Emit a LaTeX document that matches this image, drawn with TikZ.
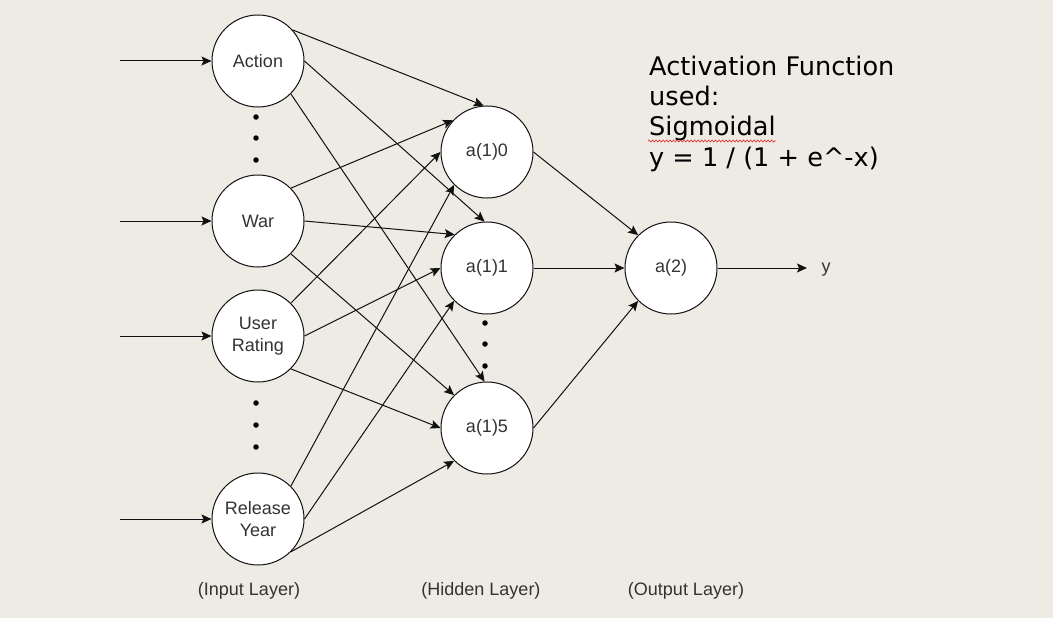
\documentclass[tikz,border=0pt]{standalone}
\usepackage{fontspec}
\setmainfont{Liberation Sans}
\newfontfamily\dejavu{DejaVu Sans}
\usetikzlibrary{arrows.meta,decorations.pathmorphing}
\definecolor{bg}{HTML}{EEEBE4}
\definecolor{txt}{HTML}{333333}
\definecolor{ln}{HTML}{111111}
\definecolor{spell}{HTML}{E02020}
\begin{document}
\begin{tikzpicture}[x=1pt,y=-1pt,
  neuron/.style={circle, draw=ln, line width=1pt, fill=white, minimum size=92pt,
    inner sep=0pt, text=txt, font=\fontsize{18}{21.6}\selectfont, align=center},
  conn/.style={draw=ln, line width=1pt, -{Stealth[length=10pt,width=9pt,inset=2pt]}},
  dotc/.style={circle, fill=black, inner sep=0pt, minimum size=5.5pt},
  layer/.style={text=txt, font=\fontsize{18}{21.6}\selectfont},
  note/.style={text=black, font=\dejavu\fontsize{25.6}{30.2}\selectfont, align=left, inner sep=0pt}]
\fill[bg] (0,0) rectangle (1053,618);
\useasboundingbox (0,0) rectangle (1053,618);

% input layer
\node[neuron] (act) at (258,61) {Action};
\node[neuron] (war) at (258,221) {War};
\node[neuron] (ur) at (258,336) {User\\Rating};
\node[neuron] (ry) at (258,519) {Release\\Year};

% hidden layer
\node[neuron] (h0) at (487,152) {a(1)0};
\node[neuron] (h1) at (487,268) {a(1)1};
\node[neuron] (h5) at (487,428) {a(1)5};

% output layer
\node[neuron] (out) at (671,268) {a(2)};

% dots
\node[dotc] (d1) at (256,117) {};
\node[dotc] (d2) at (256,138) {};
\node[dotc] (d3) at (256,160) {};
\node[dotc] (d4) at (256,403) {};
\node[dotc] (d5) at (256,425) {};
\node[dotc] (d6) at (256,447) {};
\node[dotc] (d7) at (485,323) {};
\node[dotc] (d8) at (485,344) {};
\node[dotc] (d9) at (485,366) {};

% input arrows
\coordinate (i1) at (120,61);
\coordinate (i2) at (120,221);
\coordinate (i3) at (120,336);
\coordinate (i4) at (120,519);
\draw[conn] (i1) -- (act.west);
\draw[conn] (i2) -- (war.west);
\draw[conn] (i3) -- (ur.west);
\draw[conn] (i4) -- (ry.west);

% input -> hidden
\draw[conn] (act.42) -- (h0.94);
\draw[conn] (act.0) -- (h1.93);
\draw[conn] (act.-45) -- (h5.93);
\draw[conn] (war.45) -- (h0.137);
\draw[conn] (war.0) -- (h1.134);
\draw[conn] (war.-45) -- (h5.135);
\draw[conn] (ur.45) -- (h0.180);
\draw[conn] (ur.0) -- (h1.180);
\draw[conn] (ur.-45) -- (h5.180);
\draw[conn] (ry.45) -- (h0.225);
\draw[conn] (ry.0) -- (h1.225);
\draw[conn] (ry.-45) -- (h5.225);

% hidden -> output
\draw[conn] (h0.0) -- (out.135);
\draw[conn] (h1.0) -- (out.180);
\draw[conn] (h5.0) -- (out.225);

% output arrow
\node[layer, anchor=center] (ylab) at (826,270) {y};
\coordinate (yend) at (807,268);
\draw[conn] (out.east) -- (yend);

% layer labels
\node[layer] (linput) at (249,591) {(Input Layer)};
\node[layer] (lhidden) at (481,591) {(Hidden Layer)};
\node[layer] (loutput) at (686,591) {(Output Layer)};

% note
\node[note, anchor=base west] (notetxt) at (649,166)
  {Activation Function\\used:\\Sigmoidal\\y = 1 / (1 + e\^{}-x)};
\draw[spell, line width=0.6pt, decorate,
  decoration={snake, amplitude=1pt, segment length=3.5pt}] (648,141) -- (776,141);
\end{tikzpicture}
\end{document}
